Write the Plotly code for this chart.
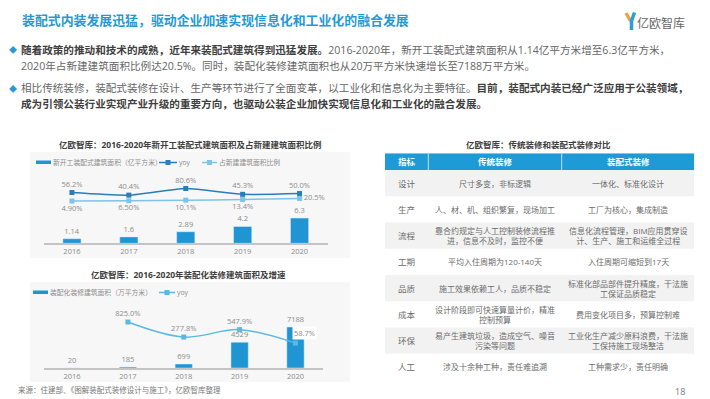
import plotly.graph_objects as go

W, H = 710, 399

# ---------------- data ----------------
years = ["2016", "2017", "2018", "2019", "2020"]
new_area = [1.14, 1.6, 2.89, 4.2, 6.3]            # 亿平方米
new_yoy = [56.2, 40.4, 80.6, 45.3, 50.0]          # %
new_share = [4.90, 6.50, 10.1, 13.4, 20.5]        # %
new_share_labels = ["4.90%", "6.50%", "10.1%", "13.4%", "20.5%"]

deco_area = [20, 185, 699, 4529, 7188]            # 万平方米
deco_yoy = [None, 825.0, 277.8, 547.9, 58.7]      # %

table_header = ["指标", "传统装修", "装配式装修"]
table_index = ["设计", "生产", "流程", "工期", "品质", "成本", "环保", "人工"]
table_traditional = [
    "尺寸多变，非标逻辑",
    "人、材、机、组织繁复，现场加工",
    "靠合约规定与人工控制装修流程推<br>进，信息不及时，监控不便",
    "平均入住周期为120-140天",
    "施工效果依赖工人，品质不稳定",
    "设计阶段即可快速算量计价，精准<br>控制预算",
    "易产生建筑垃圾，造成空气、噪音<br>污染等问题",
    "涉及十余种工种，责任难追溯",
]
table_prefab = [
    "一体化、标准化设计",
    "工厂为核心，集成制造",
    "信息化流程管理，BIM应用贯穿设<br>计、生产、施工和运维全过程",
    "入住周期可缩短到17天",
    "标准化部品部件提升精度，干法施<br>工保证品质稳定",
    "费用变化项目多，预算控制难",
    "工业化生产减少原料浪费，干法施<br>工保持施工现场整洁",
    "工种需求少，责任明确",
]

# ---------------- style ----------------
FONT = "Open Sans, Noto Sans CJK SC, sans-serif"
BLUE = "#1f96d3"
DARK_LINE = "#2b7db5"
LIGHT_LINE = "#7cc4e8"
LINE2 = "#5ab8e2"
GRAY_TXT = "#8c8c8c"
TITLE_BLUE = "#1f9ad6"


def PX(x):
    return x / W


def PY(y):
    return 1 - y / H


fig = go.Figure()

# ---------- chart 1 ----------
fig.add_trace(go.Bar(
    x=years, y=new_area, xaxis="x", yaxis="y",
    marker=dict(color=BLUE), width=0.32,
    text=[f"{v:g}" for v in new_area], textposition="outside",
    textfont=dict(size=7.5, color=GRAY_TXT), cliponaxis=False,
    showlegend=False, hoverinfo="skip"))
fig.add_trace(go.Scatter(
    x=years, y=new_yoy, xaxis="x", yaxis="y2",
    mode="lines+markers+text",
    line=dict(color=DARK_LINE, width=1.5, shape="spline", smoothing=0.6),
    marker=dict(symbol="square", size=5, color=DARK_LINE),
    text=[f"{v:.1f}%" for v in new_yoy], textposition="top center",
    textfont=dict(size=7.5, color=GRAY_TXT), cliponaxis=False,
    showlegend=False, hoverinfo="skip"))
fig.add_trace(go.Scatter(
    x=years, y=new_share, xaxis="x", yaxis="y2",
    mode="lines+markers+text",
    line=dict(color=LIGHT_LINE, width=1.5, shape="spline", smoothing=0.6),
    marker=dict(symbol="square", size=5, color=LIGHT_LINE),
    text=new_share_labels,
    textposition=["bottom center"] * 4 + ["middle right"],
    textfont=dict(size=7.5, color=GRAY_TXT), cliponaxis=False,
    showlegend=False, hoverinfo="skip"))

# ---------- chart 2 ----------
fig.add_trace(go.Bar(
    x=years, y=deco_area, xaxis="x2", yaxis="y3",
    marker=dict(color=BLUE), width=0.31,
    text=[f"{v}" for v in deco_area], textposition="outside",
    textfont=dict(size=7.5, color=GRAY_TXT), cliponaxis=False,
    showlegend=False, hoverinfo="skip"))
fig.add_trace(go.Scatter(
    x=years, y=deco_yoy, xaxis="x2", yaxis="y4",
    mode="lines+markers+text",
    line=dict(color=LINE2, width=1.5, shape="spline", smoothing=1.0),
    marker=dict(symbol="square", size=5, color=LINE2),
    text=[("" if v is None or i == len(deco_yoy) - 1 else f"{v:.1f}%")
          for i, v in enumerate(deco_yoy)],
    textposition="top center",
    textfont=dict(size=7.5, color=GRAY_TXT), cliponaxis=False,
    showlegend=False, hoverinfo="skip"))

shapes = []
annotations = []

# last yoy label with white box
annotations.append(dict(
    x=len(years) - 1, y=deco_yoy[-1], xref="x2", yref="y4",
    text=f"{deco_yoy[-1]:.1f}%", showarrow=False,
    xanchor="left", yanchor="bottom", xshift=-3, yshift=3,
    bgcolor="white", borderpad=1,
    font=dict(size=7.5, color=GRAY_TXT)))

# chart backgrounds
for (y0, y1) in [(152, 258), (282, 382)]:
    shapes.append(dict(type="rect", xref="paper", yref="paper",
                       x0=PX(30), x1=PX(350), y0=PY(y1), y1=PY(y0),
                       fillcolor="#f7f7f7", line=dict(width=0), layer="below"))

# ---------- table (drawn on its own axes) ----------
col_w = [43.3, 133.4, 132.6]
head_h = 16.7
row_h = 26.25
col_edges = [0]
for w in col_w:
    col_edges.append(col_edges[-1] + w)
total_w = col_edges[-1]
total_h = head_h + row_h * len(table_index)

shapes.append(dict(type="rect", xref="x3", yref="y5", x0=0, x1=total_w,
                   y0=0, y1=head_h, fillcolor="#1e9ad6", line=dict(width=0)))
for ce in col_edges[1:-1]:
    shapes.append(dict(type="line", xref="x3", yref="y5", x0=ce, x1=ce,
                       y0=0, y1=head_h, line=dict(color="#bfe3f5", width=1)))
for i, name in enumerate(table_header):
    annotations.append(dict(
        x=(col_edges[i] + col_edges[i + 1]) / 2, y=head_h / 2,
        xref="x3", yref="y5", text=f"<b>{name}</b>", showarrow=False,
        font=dict(size=8.5, color="white")))
for r, idx in enumerate(table_index):
    y0 = head_h + r * row_h
    if r % 2 == 0:
        shapes.append(dict(type="rect", xref="x3", yref="y5", x0=0, x1=total_w,
                           y0=y0, y1=y0 + row_h, fillcolor="#f2f2f2",
                           line=dict(width=0), layer="below"))
    for c, txt_ in enumerate([idx, table_traditional[r], table_prefab[r]]):
        annotations.append(dict(
            x=(col_edges[c] + col_edges[c + 1]) / 2, y=y0 + row_h / 2,
            xref="x3", yref="y5", text=txt_, showarrow=False,
            font=dict(size=8.5 if c == 0 else 8, color="#6b6b6b")))

# invisible trace to activate table axes
fig.add_trace(go.Scatter(x=[0, total_w], y=[0, total_h], xaxis="x3", yaxis="y5",
                         mode="markers", marker=dict(opacity=0),
                         showlegend=False, hoverinfo="skip"))


# ---------- texts ----------
def txt(x, y, s, size, color, anchor="left", bold=False):
    annotations.append(dict(
        x=PX(x), y=PY(y), xref="paper", yref="paper",
        text=(f"<b>{s}</b>" if bold else s), showarrow=False,
        xanchor=anchor, yanchor="middle", borderpad=0,
        font=dict(size=size, color=color, family=FONT)))


txt(21, 20, "装配式内装发展迅猛，驱动企业加速实现信息化和工业化的融合发展", 12.9, TITLE_BLUE, bold=True)
txt(636, 23, "亿欧智库", 12, "#666666")

# logo Y
shapes.append(dict(type="line", xref="paper", yref="paper",
                   x0=PX(626), y0=PY(13), x1=PX(630.5), y1=PY(21),
                   line=dict(color="#e8a44f", width=3.5)))
shapes.append(dict(type="line", xref="paper", yref="paper",
                   x0=PX(634.5), y0=PY(12.5), x1=PX(631.5), y1=PY(21),
                   line=dict(color="#2aa0d8", width=3.5)))
shapes.append(dict(type="line", xref="paper", yref="paper",
                   x0=PX(631.5), y0=PY(20), x1=PX(631.5), y1=PY(30),
                   line=dict(color="#2aa0d8", width=3.5)))

DK = "#404040"
NM = "#666666"
txt(8, 49.5, "◆", 8, "#2a9ad6")
txt(8, 88.5, "◆", 8, "#2a9ad6")
txt(20, 49.5, f"<span style='color:{DK}'><b>随着政策的推动和技术的成熟，近年来装配式建筑得到迅猛发展。</b></span>"
    "2016-2020年，新开工装配式建筑面积从1.14亿平方米增至6.3亿平方米，", 10.6, NM)
txt(20, 66, "2020年占新建建筑面积比例达20.5%。同时，装配化装修建筑面积也从20万平方米快速增长至7188万平方米。", 10.6, NM)
txt(20, 88.5, "相比传统装修，装配式装修在设计、生产等环节进行了全面变革，以工业化和信息化为主要特征。"
    f"<span style='color:{DK}'><b>目前，装配式内装已经广泛应用于公装领域，</b></span>", 10.6, NM)
txt(20, 104.5, "成为引领公装行业实现产业升级的重要方向，也驱动公装企业加快实现信息化和工业化的融合发展。", 10.6, DK, bold=True)

txt(191, 145, "亿欧智库：2016-2020年新开工装配式建筑面积及占新建建筑面积比例", 8.5, "#404040", anchor="center", bold=True)
txt(188, 274, "亿欧智库：2016-2020年装配化装修建筑面积及增速", 8.5, "#404040", anchor="center", bold=True)
txt(538, 145, "亿欧智库：传统装修和装配式装修对比", 8.5, "#404040", anchor="center", bold=True)

# legends (manual)
LEG = "#8c8c8c"
shapes.append(dict(type="rect", xref="paper", yref="paper", x0=PX(36), x1=PX(51),
                   y0=PY(164), y1=PY(160.5), fillcolor=BLUE, line=dict(width=0)))
txt(52, 162.5, "新开工装配式建筑面积（亿平方米）", 6.8, LEG)
for (x0, x1, col, label) in [(159, 177, DARK_LINE, "yoy"), (202, 217, LIGHT_LINE, "占新建建筑面积比例")]:
    shapes.append(dict(type="line", xref="paper", yref="paper", x0=PX(x0), x1=PX(x1),
                       y0=PY(162.5), y1=PY(162.5), line=dict(color=col, width=1.5)))
    shapes.append(dict(type="rect", xref="paper", yref="paper",
                       x0=PX((x0 + x1) / 2 - 2.5), x1=PX((x0 + x1) / 2 + 2.5),
                       y0=PY(165), y1=PY(160), fillcolor=col, line=dict(width=0)))
    txt(x1 + 1, 162.5, label, 6.8, LEG)

shapes.append(dict(type="rect", xref="paper", yref="paper", x0=PX(33), x1=PX(48),
                   y0=PY(294), y1=PY(290.5), fillcolor=BLUE, line=dict(width=0)))
txt(49, 292.5, "装配化装修建筑面积（万平方米）", 6.8, LEG)
shapes.append(dict(type="line", xref="paper", yref="paper", x0=PX(159), x1=PX(175),
                   y0=PY(292.5), y1=PY(292.5), line=dict(color=LINE2, width=1.5)))
shapes.append(dict(type="rect", xref="paper", yref="paper", x0=PX(164.5), x1=PX(169.5),
                   y0=PY(295), y1=PY(290), fillcolor=LINE2, line=dict(width=0)))
txt(176, 292.5, "yoy", 6.8, LEG)

txt(17, 390, "来源：住建部、《图解装配式装修设计与施工》，亿欧智库整理", 7.5, "#777777")
txt(680, 391.5, "18", 9, "#777777", anchor="center")

# ---------- layout ----------
xcommon = dict(type="category", showgrid=False, zeroline=False, ticks="",
               showline=True, linecolor="#c4c4c4", linewidth=2,
               range=[-0.5, len(years) - 0.5], autorange=False,
               tickfont=dict(size=7.5, color=GRAY_TXT), fixedrange=True)
hidden = dict(visible=False, showgrid=False, zeroline=False, fixedrange=True)

fig.update_layout(
    width=W, height=H,
    margin=dict(l=0, r=0, t=0, b=0),
    paper_bgcolor="white", plot_bgcolor="rgba(0,0,0,0)",
    font=dict(family=FONT, color="#595959"),
    showlegend=False,
    xaxis=dict(**xcommon, domain=[PX(43.5), PX(328)], anchor="y"),
    yaxis=dict(**hidden, domain=[PY(243.3), PY(170)], range=[0, 18.3], anchor="x"),
    yaxis2=dict(**hidden, overlaying="y", range=[-251.5, 192.7], anchor="x"),
    xaxis2=dict(**xcommon, domain=[PX(44.1), PX(323.4)], anchor="y3"),
    yaxis3=dict(**hidden, domain=[PY(368), PY(300)], range=[0, 11930], anchor="x2"),
    yaxis4=dict(**hidden, overlaying="y3", range=[-847, 1625], anchor="x2"),
    xaxis3=dict(**hidden, domain=[PX(385), PX(694.3)], range=[0, total_w], anchor="y5"),
    yaxis5=dict(**hidden, domain=[PY(153.3 + total_h), PY(153.3)], range=[total_h, 0], anchor="x3"),
    shapes=shapes,
    annotations=annotations,
)

fig.write_html("out.html", config={"displayModeBar": False},
               post_script="document.body.style.margin='0';")
